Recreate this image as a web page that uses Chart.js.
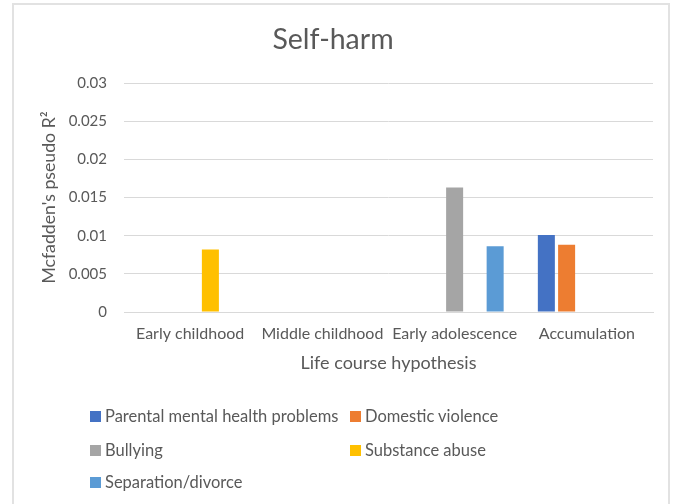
<!DOCTYPE html>
<html>
<head>
<meta charset="utf-8">
<script src="https://cdn.jsdelivr.net/npm/chart.js@4/dist/chart.umd.min.js"></script>
<style>
  html, body { margin: 0; padding: 0; background: #ffffff; overflow: hidden; }
  #wrap { position: relative; width: 676px; height: 504px; overflow: hidden; background: #fff; }
  #frame { position: absolute; left: 12px; top: 3px; width: 658px; height: 540px; border: 2px solid #e2e2e2; box-sizing: border-box; pointer-events: none; }
  #c { position: absolute; left: 0; top: 0; }
  #legend { position: absolute; left: 0; top: 0; width: 676px; height: 504px; pointer-events: none;
            font-family: Lato, "Open Sans", sans-serif; font-size: 16.5px; color: #595959; }
  .li { position: absolute; white-space: nowrap; line-height: 20px; }
  .sw { position: absolute; width: 11px; height: 11px; }
</style>
</head>
<body>
<div id="wrap">
  <canvas id="c" width="676" height="504"></canvas>
  <div id="frame"></div>
  <div id="legend"></div>
</div>
<script>
const categories = ['Early childhood', 'Middle childhood', 'Early adolescence', 'Accumulation'];
const seriesNames = ['Parental mental health problems', 'Domestic violence', 'Bullying', 'Substance abuse', 'Separation/divorce'];
const parentalMentalHealth = [null, null, null, 0.0101];
const domesticViolence     = [null, null, null, 0.0088];
const bullying             = [null, null, 0.0163, null];
const substanceAbuse       = [0.0082, null, null, null];
const separationDivorce    = [null, null, 0.0086, null];
const yTickLabels = ['0', '0.005', '0.01', '0.015', '0.02', '0.025', '0.03'];
const seriesColors = ['#4472C4', '#ED7D31', '#A5A5A5', '#FFC000', '#5B9BD5'];

const seriesValues = [parentalMentalHealth, domesticViolence, bullying, substanceAbuse, separationDivorce];
const FONT = 'Lato, "Open Sans", sans-serif';
const TXT = '#595959';

const chart = new Chart(document.getElementById('c'), {
  type: 'bar',
  data: {
    labels: categories,
    datasets: seriesValues.map((vals, i) => ({
      label: seriesNames[i],
      data: vals,
      backgroundColor: seriesColors[i],
      borderWidth: 0,
      categoryPercentage: 0.766,
      barPercentage: 0.84
    }))
  },
  options: {
    responsive: false,
    animation: false,
    devicePixelRatio: 1,
    layout: { padding: { left: 13, right: 23, top: 0, bottom: 0 } },
    plugins: {
      legend: { display: false },
      tooltip: { enabled: false },
      title: {
        display: true,
        text: 'Self-harm',
        color: TXT,
        font: { family: FONT, size: 28.5, weight: 'normal' },
        padding: { top: 23, bottom: 25.8 }
      }
    },
    scales: {
      x: {
        grid: { display: false, drawTicks: false },
        border: { display: true, color: '#d9d9d9', width: 1 },
        ticks: { color: TXT, font: { family: FONT, size: 16 }, padding: 12, maxRotation: 0, autoSkip: false },
        title: {
          display: true, text: 'Life course hypothesis', color: TXT,
          font: { family: FONT, size: 18 }, padding: { top: 0, bottom: 130 }
        },
        afterFit: (s) => { s.height = 192; }
      },
      y: {
        min: 0, max: 0.03,
        ticks: {
          stepSize: 0.005, color: TXT, font: { family: FONT, size: 15 }, padding: 17,
          callback: (v, i) => yTickLabels[i]
        },
        grid: { color: '#d9d9d9', lineWidth: 1, drawTicks: false },
        border: { display: false },
        title: {
          display: true, text: "Mcfadden's pseudo R²", color: TXT,
          font: { family: FONT, size: 17.7 }, padding: { top: 26, bottom: 0 }
        },
        afterFit: (s) => { s.width = 111; }
      }
    }
  }
});

// HTML legend built from the chart's datasets (two columns, Excel style)
const legend = document.getElementById('legend');
const cols = [90, 350];
const rows = [416, 450, 482];
chart.data.datasets.forEach((ds, i) => {
  const x = cols[i % 2];
  const y = rows[Math.floor(i / 2)];
  const sw = document.createElement('div');
  sw.className = 'sw';
  sw.style.left = x + 'px';
  sw.style.top = (y - 5.5) + 'px';
  sw.style.background = ds.backgroundColor;
  legend.appendChild(sw);
  const t = document.createElement('div');
  t.className = 'li';
  t.style.left = (x + 15) + 'px';
  t.style.top = (y - 10) + 'px';
  t.textContent = ds.label;
  legend.appendChild(t);
});
</script>
</body>
</html>
